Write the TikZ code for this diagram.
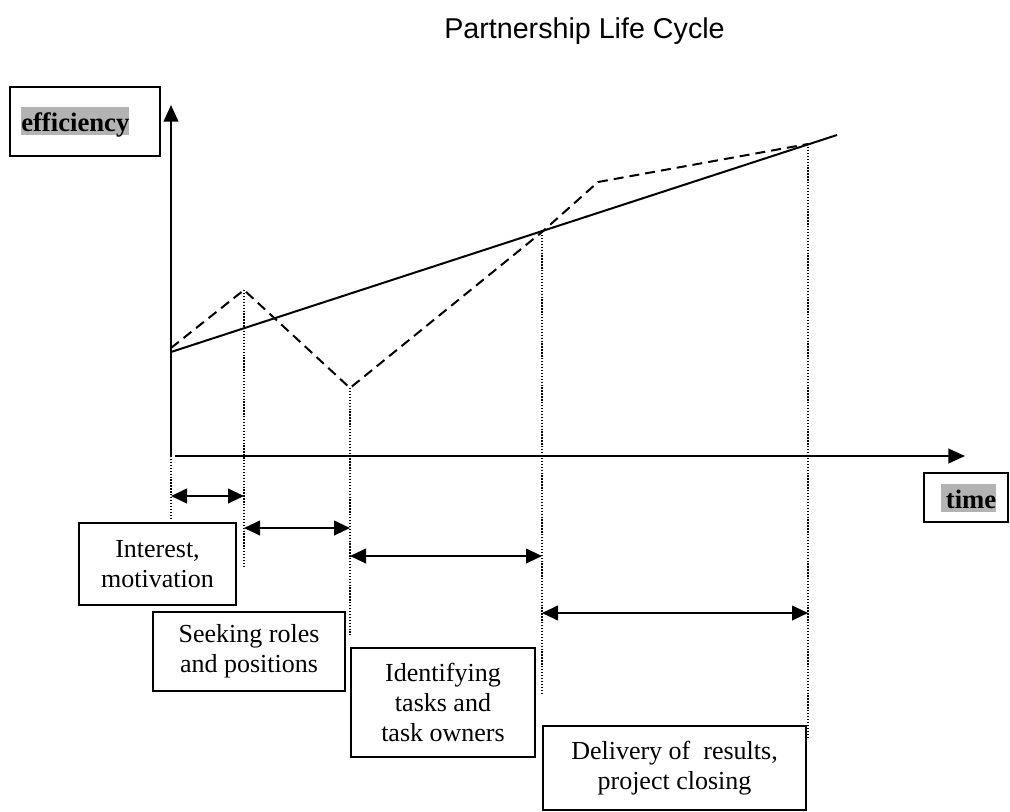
\documentclass[tikz,border=0pt]{standalone}
\usepackage{fontspec}
\setmainfont{Liberation Serif}
\newfontfamily\titlefont{Liberation Sans}
\usepackage{tikz}
\usetikzlibrary{arrows.meta}
\definecolor{hlgray}{RGB}{179,179,179}

\begin{document}
\begin{tikzpicture}[
    x=0.75pt, y=-0.75pt,
    axis/.style={line width=1.5pt, -{Triangle[length=12.5pt, width=11pt]}},
    trend/.style={line width=1.5pt},
    phase/.style={line width=1.5pt, dash pattern=on 7.5pt off 4.5pt},
    guide/.style={line width=0.9pt, dash pattern=on 1pt off 1.2pt},
    span/.style={line width=1.5pt,
                 {Triangle[length=12pt, width=11pt]}-{Triangle[length=12pt, width=11pt]}},
    stagebox/.style={draw, line width=1.5pt, align=center, inner sep=0pt,
                     font=\fontsize{19.5}{22.5}\selectfont},
    axisbox/.style={draw, line width=1.5pt, inner sep=0pt},
    hl/.style={fill=hlgray, inner sep=0pt, text height=18pt, text depth=3pt,
               font=\fontsize{20}{24}\selectfont\bfseries},
  ]
  \useasboundingbox (0,0) rectangle (1010,811);

  % Title
  \node[anchor=base, font=\titlefont\fontsize{21.5}{26}\selectfont] (title)
    at (584.5,38) {Partnership Life Cycle};

  % Axes
  \coordinate (o) at (171,456);
  \coordinate (ytop) at (171,105);
  \coordinate (xstart) at (175,456);
  \coordinate (xend) at (965,456);
  \draw[axis] (o) -- (ytop);
  \draw[axis] (xstart) -- (xend);

  \node[axisbox, minimum width=150*0.75pt, minimum height=69*0.75pt] (effbox) at (85,121.5) {};
  \node[hl, anchor=base west] (efftext) at (21,131) {efficiency};
  \node[axisbox, minimum width=84*0.75pt, minimum height=49*0.75pt] (timebox) at (966,497.5) {};
  \node[hl, anchor=base west] (timetext) at (941,508) {\hspace{3.5pt}time\hspace{6.5pt}};

  % Curves
  \coordinate (t0) at (171,352);
  \coordinate (t1) at (837,135);
  \coordinate (p0) at (171,348);
  \coordinate (p1) at (244,290);
  \coordinate (p2) at (350,388);
  \coordinate (p3) at (542,232);
  \coordinate (p4) at (598,182);
  \coordinate (p5) at (808,144);
  \draw[trend] (t0) -- (t1);
  \draw[phase] (p0) -- (p1) -- (p2) -- (p3) -- (p4) -- (p5);

  % Phase markers
  \foreach \p/\y in {o/520, p1/566, p2/635, p3/695, p5/737}
    \draw[guide] (\p) -- (\p |- 0,\y);
  \foreach \a/\b/\y in {o/p1/496, p1/p2/528, p2/p3/556, p3/p5/613}
    \draw[span] (\a |- 0,\y) -- (\b |- 0,\y);

  % Phases
  \node[stagebox, minimum width=157*0.75pt, minimum height=82*0.75pt] (interest)
    at (157.5,564) {Interest,\\motivation};
  \node[stagebox, minimum width=192*0.75pt, minimum height=79*0.75pt] (seeking)
    at (249,651.5) {Seeking roles\\and positions};
  \node[stagebox, minimum width=184*0.75pt, minimum height=109*0.75pt] (identify)
    at (443,702.5) {Identifying\\tasks and\\task owners};
  \node[stagebox, minimum width=263*0.75pt, minimum height=84*0.75pt] (delivery)
    at (674.5,768) {Delivery of\ \ results,\\project closing};

\end{tikzpicture}
\end{document}
